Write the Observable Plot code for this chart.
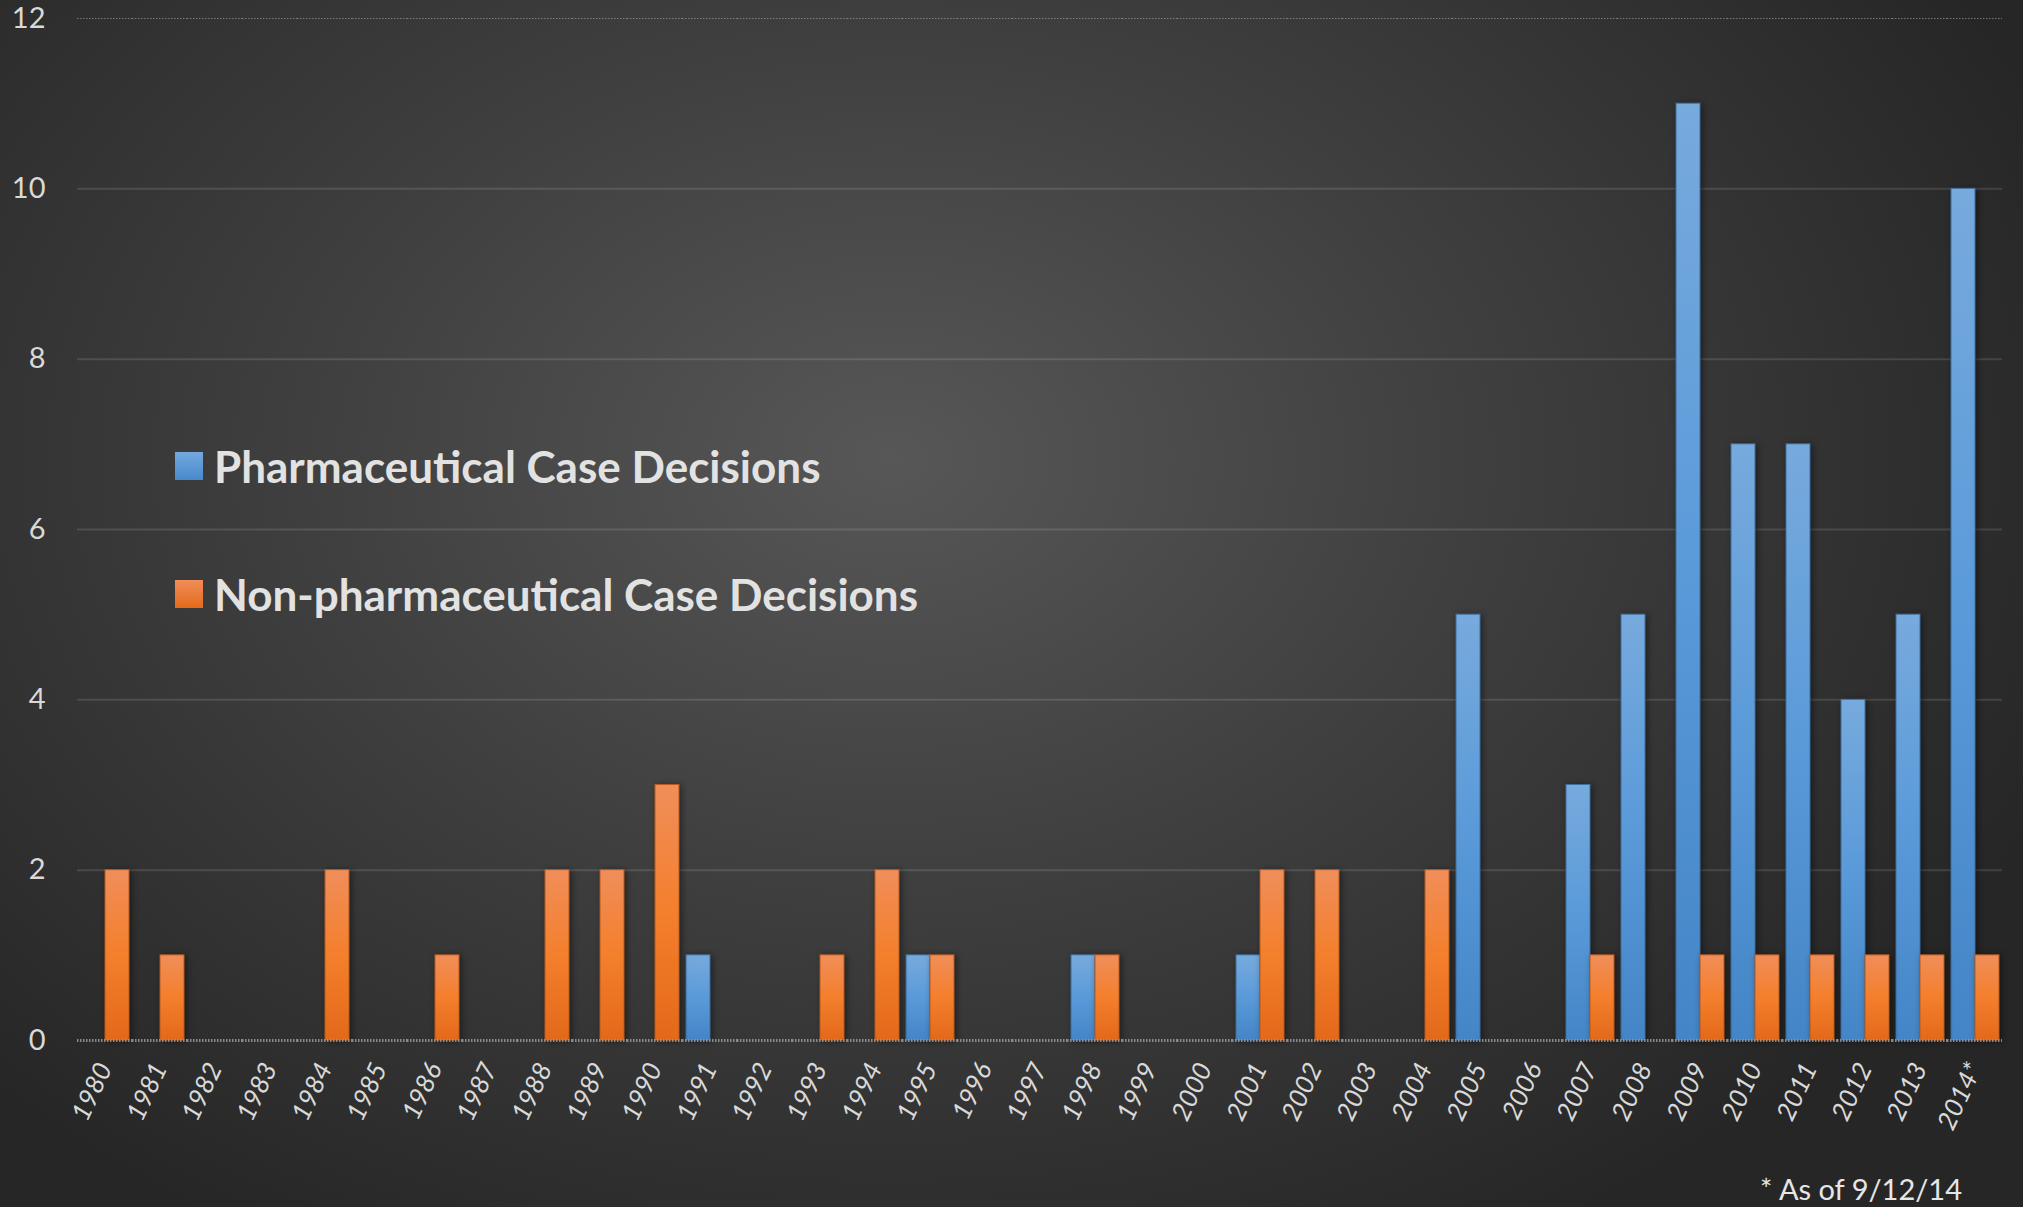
<!DOCTYPE html>
<html>
<head>
<meta charset="utf-8">
<script src="https://cdn.jsdelivr.net/npm/d3@7"></script>
<script src="https://cdn.jsdelivr.net/npm/@observablehq/plot@0.6"></script>
<style>
  html, body { margin: 0; padding: 0; width: 2023px; height: 1207px; overflow: hidden; }
  body {
    background: radial-gradient(ellipse 62% 75% at 44% 38%, #575757 0%, #404040 45%, #262626 100%);
    font-family: Lato, "Open Sans", sans-serif;
    position: relative;
  }
  #chart { position: absolute; left: 0; top: 0; }
  #legend { position: absolute; left: 175px; top: 0; color: #e2e2e2; font-weight: 700; font-size: 44px; }
  .lg { position: absolute; left: 0; white-space: nowrap; display: flex; align-items: center; }
  .sw { width: 28px; height: 28px; margin-right: 11px; }
  #note { position: absolute; right: 61px; top: 1171px; color: #e6e6e6; font-size: 29px; }
  [aria-label^="fx-axis"] text { font-size: 26px; font-style: italic; fill: #d9d9d9; }
  [aria-label^="y-axis"] text { font-size: 29px; fill: #d9d9d9; }
  .bars { filter: drop-shadow(2px 1px 3px rgba(0,0,0,0.45)); }
</style>
</head>
<body>
<div id="chart"></div>
<div id="legend">
  <div class="lg" style="top:440px"><div class="sw" style="background:linear-gradient(#74a9de,#4689cc)"></div>Pharmaceutical Case Decisions</div>
  <div class="lg" style="top:568px"><div class="sw" style="background:linear-gradient(#f08d59,#e46a1a)"></div>Non-pharmaceutical Case Decisions</div>
</div>
<div id="note">* As of 9/12/14</div>
<script>
const years = ["1980","1981","1982","1983","1984","1985","1986","1987","1988","1989",
  "1990","1991","1992","1993","1994","1995","1996","1997","1998","1999",
  "2000","2001","2002","2003","2004","2005","2006","2007","2008","2009",
  "2010","2011","2012","2013","2014*"];
const pharma = [0,0,0,0,0,0,0,0,0,0, 0,1,0,0,0,1,0,0,1,0, 0,1,0,0,0,5,0,3,5,11, 7,7,4,5,10];
const nonPharma = [2,1,0,0,2,0,1,0,2,2, 3,0,0,1,2,1,0,0,1,0, 0,2,2,0,2,0,0,1,0,1, 1,1,1,1,1];
const seriesNames = ["Pharmaceutical Case Decisions", "Non-pharmaceutical Case Decisions"];
const yTicks = [0,2,4,6,8,10,12];

const pData = years.map((y,i) => ({year: y, series: seriesNames[0], value: pharma[i]}));
const nData = years.map((y,i) => ({year: y, series: seriesNames[1], value: nonPharma[i]}));

const chart = Plot.plot({
  width: 2023,
  height: 1160,
  marginLeft: 72,
  marginRight: 17,
  marginTop: 18,
  marginBottom: 120,
  style: {background: "transparent", color: "#d9d9d9", fontFamily: "Lato, 'Open Sans', sans-serif", overflow: "visible"},
  fx: {domain: years, padding: 0, label: null, tickRotate: -65, tickSize: 0, tickPadding: 24},
  x: {domain: seriesNames, paddingInner: 0, paddingOuter: 0.1, axis: null},
  y: {domain: [0, 12], ticks: yTicks, label: null, tickSize: 0, tickPadding: 32},
  marks: [
    Plot.ruleY(yTicks.filter(t => t > 0 && t < 12), {stroke: "#ffffff", strokeOpacity: 0.12, strokeWidth: 2}),
    Plot.ruleY([12], {stroke: "#9a9a9a", strokeOpacity: 0.7, strokeWidth: 1, strokeDasharray: "1.5,1.5"}),
    Plot.barY(pData, {fx: "year", x: "series", y: "value", fill: "url(#gBlue)", stroke: "#3f6f9f", strokeWidth: 1, strokeOpacity: d => d.value > 0 ? 1 : 0, className: "bars"}),
    Plot.barY(nData, {fx: "year", x: "series", y: "value", fill: "url(#gOrange)", stroke: "#b85a1e", strokeWidth: 1, strokeOpacity: d => d.value > 0 ? 1 : 0, className: "bars"}),
    Plot.ruleY([0], {stroke: "#a0a0a0", strokeOpacity: 0.8, strokeWidth: 3, strokeDasharray: "1.5,1.5"})
  ]
});

const svgNS = "http://www.w3.org/2000/svg";
const defs = document.createElementNS(svgNS, "defs");
defs.innerHTML = `
  <linearGradient id="gBlue" x1="0" y1="0" x2="0" y2="1">
    <stop offset="0" stop-color="#77aadd"/>
    <stop offset="0.5" stop-color="#5a9ad9"/>
    <stop offset="1" stop-color="#4485c7"/>
  </linearGradient>
  <linearGradient id="gOrange" x1="0" y1="0" x2="0" y2="1">
    <stop offset="0" stop-color="#f08e5a"/>
    <stop offset="0.5" stop-color="#f47f2c"/>
    <stop offset="1" stop-color="#e3691a"/>
  </linearGradient>`;
chart.insertBefore(defs, chart.firstChild);
document.getElementById("chart").appendChild(chart);
</script>
</body>
</html>
